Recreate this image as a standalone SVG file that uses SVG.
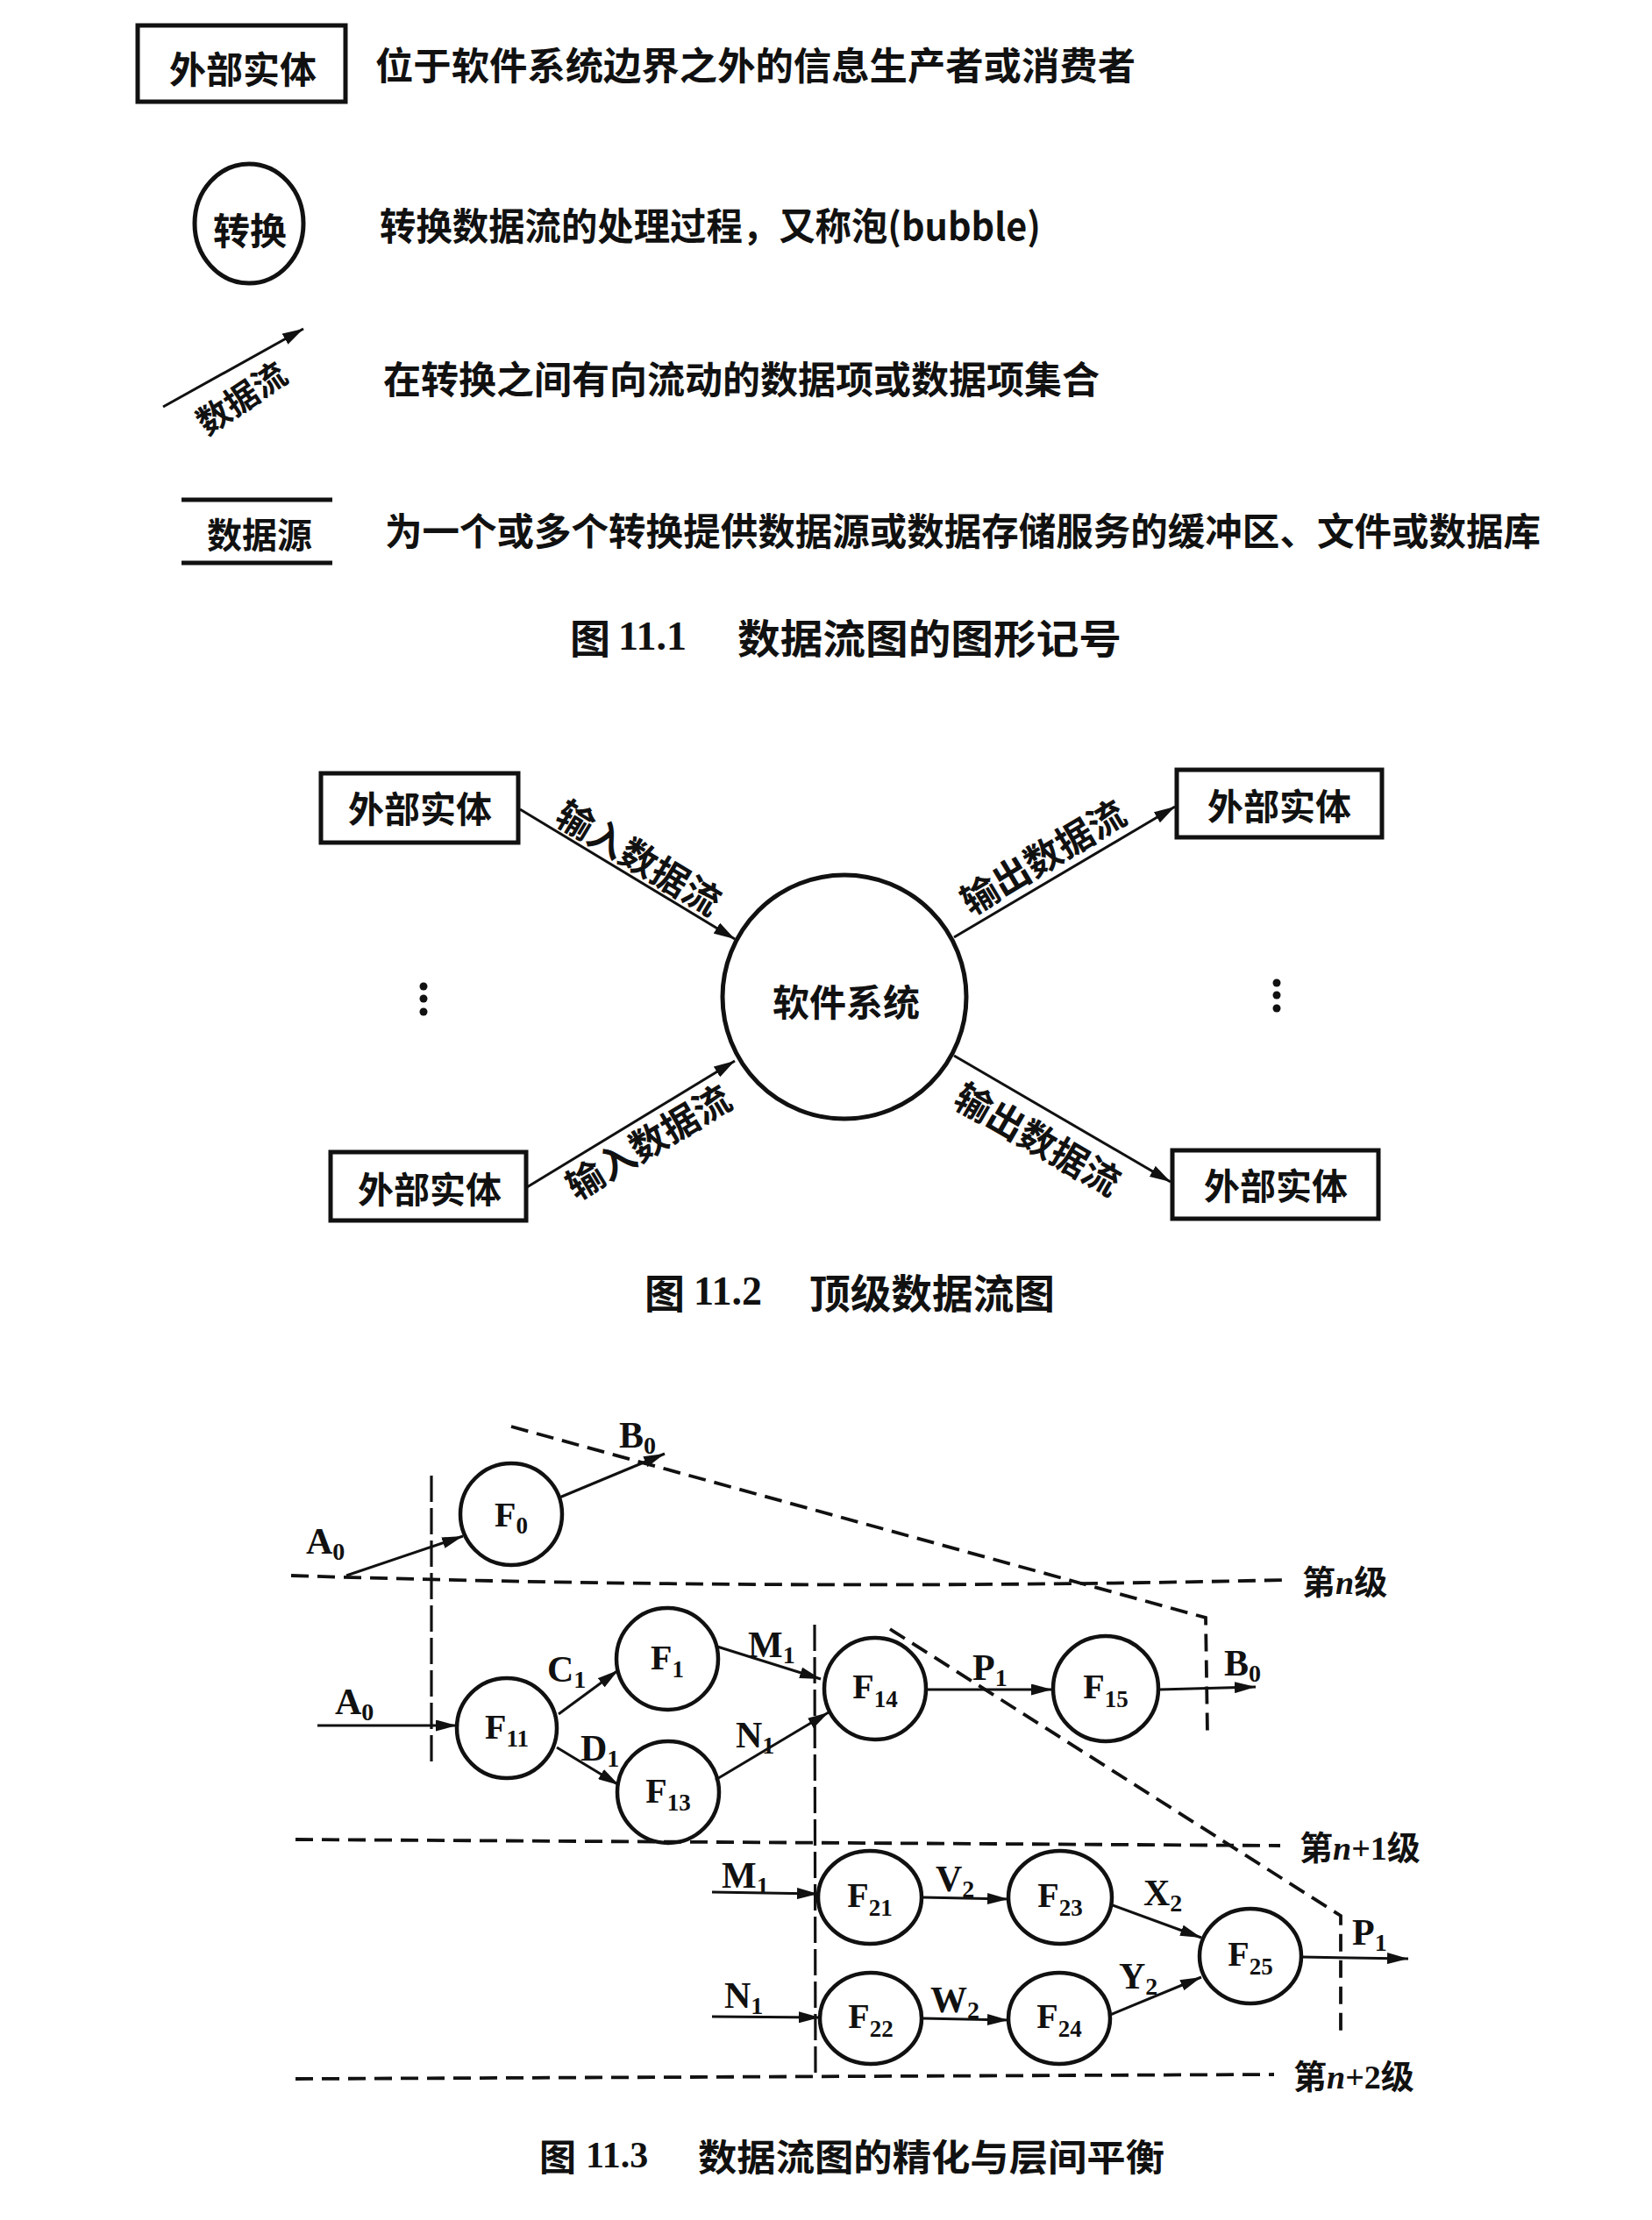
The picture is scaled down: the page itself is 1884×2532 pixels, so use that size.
<svg xmlns="http://www.w3.org/2000/svg" width="1884" height="2532" viewBox="0 0 1884 2532">
<defs>
<style>
.box{fill:none;stroke:#111;stroke-width:5}
.bub{fill:none;stroke:#111;stroke-width:5}
.bub3{fill:none;stroke:#111;stroke-width:4.5}
.ln{fill:none;stroke:#111;stroke-width:3}
.ln3{fill:none;stroke:#111;stroke-width:3}
.ds{fill:none;stroke:#111;stroke-width:3.8;stroke-dasharray:20 10}
.dv{fill:none;stroke:#111;stroke-width:3.2;stroke-dasharray:30 7}
.cjk{font-family:"Noto Sans CJK SC","Noto Sans",sans-serif;font-weight:bold;fill:#111}
.lat{font-family:"Liberation Serif",serif;font-weight:bold;fill:#111}
.num{font-family:"Liberation Serif",serif;fill:#111}
.c{text-anchor:middle;dominant-baseline:central}
.m{dominant-baseline:central}
</style>
<marker id="ah" markerUnits="userSpaceOnUse" markerWidth="24" markerHeight="14" refX="24" refY="7" orient="auto">
<path d="M0,0 L24,7 L0,14 z" fill="#111"/>
</marker>
<marker id="ah3" markerUnits="userSpaceOnUse" markerWidth="24" markerHeight="13" refX="24" refY="6.5" orient="auto">
<path d="M0,0 L24,6.5 L0,13 z" fill="#111"/>
</marker>
</defs>
<rect width="1884" height="2532" fill="#fff"/>

<!-- Figure 11.1 legend -->
<g id="legend-entity">
<rect class="box" x="157" y="29" width="237" height="87"/>
<text class="cjk c" x="277" y="76" font-size="42">外部实体</text>
<text class="cjk m" x="428" y="72" font-size="43" textLength="867" lengthAdjust="spacingAndGlyphs">位于软件系统边界之外的信息生产者或消费者</text>
</g>
<g id="legend-transform">
<ellipse class="bub" cx="284" cy="255" rx="62" ry="68"/>
<text class="cjk c" x="285" y="260" font-size="42">转换</text>
<text class="cjk m" x="433" y="255" font-size="43" textLength="754" lengthAdjust="spacingAndGlyphs">转换数据流的处理过程，又称泡(bubble)</text>
</g>
<g id="legend-flow">
<line class="ln" x1="186" y1="464" x2="346" y2="375" marker-end="url(#ah)"/>
<text class="cjk c" font-size="38" transform="translate(274,452) rotate(-34)">数据流</text>
<text class="cjk m" x="437" y="430" font-size="43" textLength="817" lengthAdjust="spacingAndGlyphs">在转换之间有向流动的数据项或数据项集合</text>
</g>
<g id="legend-store">
<line x1="207" y1="570" x2="379" y2="570" stroke="#111" stroke-width="5"/>
<line x1="207" y1="642" x2="379" y2="642" stroke="#111" stroke-width="5"/>
<text class="cjk c" x="296" y="608" font-size="40">数据源</text>
<text class="cjk m" x="439" y="603" font-size="43" textLength="1318" lengthAdjust="spacingAndGlyphs">为一个或多个转换提供数据源或数据存储服务的缓冲区、文件或数据库</text>
</g>
<g id="caption-11-1">
<text class="cjk m" x="650" y="725" font-size="46">图</text>
<text class="num" x="705" y="741" font-size="46" font-weight="bold">11.1</text>
<text class="cjk m" x="841" y="725" font-size="46" textLength="438" lengthAdjust="spacingAndGlyphs">数据流图的图形记号</text>
</g>

<!-- Figure 11.2 -->
<g id="ent-tl"><rect class="box" x="366" y="882" width="225" height="79"/><text class="cjk c" x="479" y="920" font-size="41">外部实体</text></g>
<g id="ent-tr"><rect class="box" x="1342" y="878" width="234" height="77"/><text class="cjk c" x="1459" y="917" font-size="41">外部实体</text></g>
<g id="ent-bl"><rect class="box" x="377" y="1314" width="223" height="78"/><text class="cjk c" x="490" y="1354" font-size="41">外部实体</text></g>
<g id="ent-br"><rect class="box" x="1337" y="1312" width="235" height="78"/><text class="cjk c" x="1455" y="1350" font-size="41">外部实体</text></g>
<g id="sys"><circle class="bub" cx="963" cy="1137" r="139"/><text class="cjk c" x="965" y="1140" font-size="42">软件系统</text></g>
<g id="dots">
<circle cx="483" cy="1125" r="4.5" fill="#111"/><circle cx="483" cy="1139" r="4.5" fill="#111"/><circle cx="483" cy="1154" r="4.5" fill="#111"/>
<circle cx="1456" cy="1121" r="4.5" fill="#111"/><circle cx="1456" cy="1135" r="4.5" fill="#111"/><circle cx="1456" cy="1150" r="4.5" fill="#111"/>
</g>
<g id="connectors-11-2">
<line class="ln" x1="593" y1="923" x2="838" y2="1071" marker-end="url(#ah)"/>
<line class="ln" x1="1088" y1="1069" x2="1340" y2="920" marker-end="url(#ah)"/>
<line class="ln" x1="601" y1="1354" x2="838" y2="1210" marker-end="url(#ah)"/>
<line class="ln" x1="1088" y1="1204" x2="1335" y2="1348" marker-end="url(#ah)"/>
<text class="cjk c" font-size="42" transform="translate(730,976) rotate(31)">输入数据流</text>
<text class="cjk c" font-size="42" transform="translate(1188,975) rotate(-31)">输出数据流</text>
<text class="cjk c" font-size="42" transform="translate(738,1300) rotate(-31)">输入数据流</text>
<text class="cjk c" font-size="42" transform="translate(1185,1297) rotate(30)">输出数据流</text>
</g>
<g id="caption-11-2">
<text class="cjk m" x="735" y="1472" font-size="46">图</text>
<text class="num" x="791" y="1488" font-size="46" font-weight="bold">11.2</text>
<text class="cjk m" x="923" y="1472" font-size="46" textLength="280" lengthAdjust="spacingAndGlyphs">顶级数据流图</text>
</g>

<!-- Figure 11.3 -->
<g id="boundaries">
<path class="ds" d="M332,1797 Q900,1815 1465,1802"/>
<line class="ds" x1="337" y1="2098" x2="1460" y2="2105"/>
<line class="ds" x1="337" y1="2371" x2="1453" y2="2366"/>
<line class="dv" x1="492" y1="1683" x2="492" y2="2015"/>
<line class="dv" x1="929" y1="1853" x2="930" y2="2365"/>
<path class="ds" d="M583,1627 L1375,1845 L1377,1978"/>
<path class="ds" d="M1015,1858 L1529,2185 L1529,2323"/>
<text class="cjk" x="1485" y="1818" font-size="38">第<tspan class="num" font-style="italic" font-weight="bold">n</tspan>级</text>
<text class="cjk" x="1482" y="2121" font-size="38">第<tspan class="num" font-style="italic" font-weight="bold">n</tspan><tspan class="num" font-weight="bold">+1</tspan>级</text>
<text class="cjk" x="1475" y="2382" font-size="38">第<tspan class="num" font-style="italic" font-weight="bold">n</tspan><tspan class="num" font-weight="bold">+2</tspan>级</text>
</g>
<g id="F0"><circle class="bub3" cx="583" cy="1727" r="58"/><text class="lat" x="583" y="1741" font-size="40" text-anchor="middle">F<tspan font-size="27" dy="8">0</tspan></text></g>
<g id="F11"><circle class="bub3" cx="578" cy="1971" r="57"/><text class="lat" x="578" y="1983" font-size="40" text-anchor="middle">F<tspan font-size="27" dy="9">11</tspan></text></g>
<g id="F1"><circle class="bub3" cx="761" cy="1892" r="58"/><text class="lat" x="761" y="1904" font-size="40" text-anchor="middle">F<tspan font-size="27" dy="9">1</tspan></text></g>
<g id="F13"><circle class="bub3" cx="762" cy="2044" r="58"/><text class="lat" x="762" y="2056" font-size="40" text-anchor="middle">F<tspan font-size="27" dy="9">13</tspan></text></g>
<g id="F14"><circle class="bub3" cx="998" cy="1926" r="58"/><text class="lat" x="998" y="1937" font-size="40" text-anchor="middle">F<tspan font-size="27" dy="10">14</tspan></text></g>
<g id="F15"><circle class="bub3" cx="1261" cy="1926" r="60"/><text class="lat" x="1261" y="1937" font-size="40" text-anchor="middle">F<tspan font-size="27" dy="10">15</tspan></text></g>
<g id="F21"><ellipse class="bub3" cx="992" cy="2164" rx="59" ry="53"/><text class="lat" x="992" y="2175" font-size="40" text-anchor="middle">F<tspan font-size="27" dy="10">21</tspan></text></g>
<g id="F23"><ellipse class="bub3" cx="1209" cy="2164" rx="59" ry="53"/><text class="lat" x="1209" y="2175" font-size="40" text-anchor="middle">F<tspan font-size="27" dy="10">23</tspan></text></g>
<g id="F22"><ellipse class="bub3" cx="993" cy="2302" rx="58" ry="52"/><text class="lat" x="993" y="2313" font-size="40" text-anchor="middle">F<tspan font-size="27" dy="10">22</tspan></text></g>
<g id="F24"><ellipse class="bub3" cx="1208" cy="2302" rx="58" ry="52"/><text class="lat" x="1208" y="2313" font-size="40" text-anchor="middle">F<tspan font-size="27" dy="10">24</tspan></text></g>
<g id="F25"><ellipse class="bub3" cx="1426" cy="2231" rx="58" ry="54"/><text class="lat" x="1426" y="2242" font-size="40" text-anchor="middle">F<tspan font-size="27" dy="10">25</tspan></text></g>
<g id="connectors-11-3">
<line class="ln3" x1="395" y1="1797" x2="528" y2="1752" marker-end="url(#ah3)"/>
<line class="ln3" x1="638" y1="1708" x2="758" y2="1658" marker-end="url(#ah3)"/>
<line class="ln3" x1="362" y1="1968" x2="521" y2="1968" marker-end="url(#ah3)"/>
<line class="ln3" x1="637" y1="1955" x2="705" y2="1905" marker-end="url(#ah3)"/>
<line class="ln3" x1="635" y1="1993" x2="706" y2="2036" marker-end="url(#ah3)"/>
<line class="ln3" x1="818" y1="1878" x2="936" y2="1915" marker-end="url(#ah3)"/>
<line class="ln3" x1="816" y1="2030" x2="945" y2="1953" marker-end="url(#ah3)"/>
<line class="ln3" x1="1057" y1="1927" x2="1200" y2="1927" marker-end="url(#ah3)"/>
<line class="ln3" x1="1322" y1="1927" x2="1432" y2="1924" marker-end="url(#ah3)"/>
<line class="ln3" x1="812" y1="2158" x2="933" y2="2160" marker-end="url(#ah3)"/>
<line class="ln3" x1="812" y1="2300" x2="935" y2="2301" marker-end="url(#ah3)"/>
<line class="ln3" x1="1052" y1="2164" x2="1150" y2="2166" marker-end="url(#ah3)"/>
<line class="ln3" x1="1052" y1="2302" x2="1150" y2="2304" marker-end="url(#ah3)"/>
<line class="ln3" x1="1266" y1="2172" x2="1370" y2="2210" marker-end="url(#ah3)"/>
<line class="ln3" x1="1266" y1="2298" x2="1370" y2="2255" marker-end="url(#ah3)"/>
<line class="ln3" x1="1484" y1="2232" x2="1606" y2="2234" marker-end="url(#ah3)"/>
<text class="lat" x="349" y="1772" font-size="42">A<tspan font-size="28" dy="7">0</tspan></text>
<text class="lat" x="706" y="1651" font-size="42">B<tspan font-size="28" dy="7">0</tspan></text>
<text class="lat" x="382" y="1955" font-size="42">A<tspan font-size="28" dy="7">0</tspan></text>
<text class="lat" x="624" y="1918" font-size="42">C<tspan font-size="28" dy="7">1</tspan></text>
<text class="lat" x="662" y="2008" font-size="42">D<tspan font-size="28" dy="7">1</tspan></text>
<text class="lat" x="853" y="1890" font-size="42">M<tspan font-size="28" dy="7">1</tspan></text>
<text class="lat" x="839" y="1993" font-size="42">N<tspan font-size="28" dy="7">1</tspan></text>
<text class="lat" x="1109" y="1916" font-size="42">P<tspan font-size="28" dy="7">1</tspan></text>
<text class="lat" x="1396" y="1911" font-size="42">B<tspan font-size="28" dy="7">0</tspan></text>
<text class="lat" x="823" y="2153" font-size="42">M<tspan font-size="28" dy="7">1</tspan></text>
<text class="lat" x="826" y="2290" font-size="42">N<tspan font-size="28" dy="7">1</tspan></text>
<text class="lat" x="1067" y="2157" font-size="42">V<tspan font-size="28" dy="7">2</tspan></text>
<text class="lat" x="1061" y="2295" font-size="42">W<tspan font-size="28" dy="7">2</tspan></text>
<text class="lat" x="1304" y="2173" font-size="42">X<tspan font-size="28" dy="7">2</tspan></text>
<text class="lat" x="1276" y="2268" font-size="42">Y<tspan font-size="28" dy="7">2</tspan></text>
<text class="lat" x="1542" y="2218" font-size="42">P<tspan font-size="28" dy="7">1</tspan></text>
</g>
<g id="caption-11-3">
<text class="cjk m" x="615" y="2457" font-size="42" fill="#222">图</text>
<text class="num" x="668" y="2472" font-size="42" font-weight="bold">11.3</text>
<text class="cjk m" x="796" y="2457" font-size="42" textLength="532" lengthAdjust="spacingAndGlyphs">数据流图的精化与层间平衡</text>
</g>
</svg>
